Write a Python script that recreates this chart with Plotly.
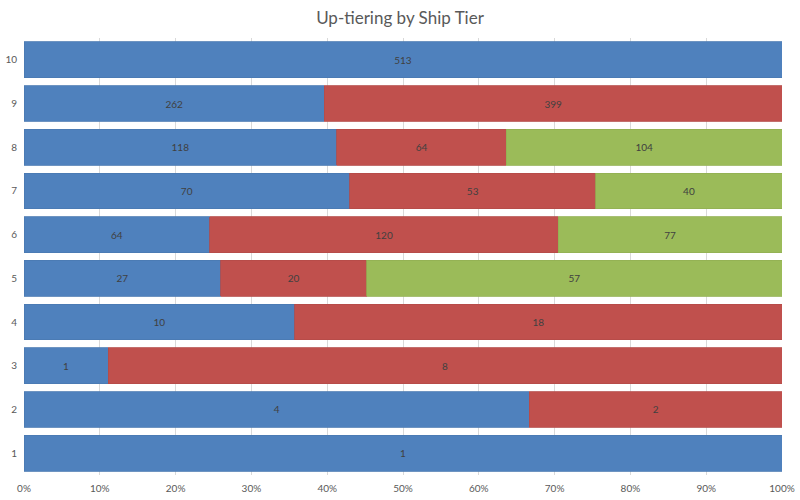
import plotly.graph_objects as go

tiers = ["1", "2", "3", "4", "5", "6", "7", "8", "9", "10"]
same_tier = [1, 4, 1, 10, 27, 64, 70, 118, 262, 513]
plus_one = [None, 2, 8, 18, 20, 120, 53, 64, 399, None]
plus_two = [None, None, None, None, 57, 77, 40, 104, None, None]
x_ticks = list(range(0, 101, 10))
tick_labels = [f"{t}%" for t in x_ticks]

colors = ["#4F81BD", "#C0504D", "#9BBB59"]
borders = ["#4A79B2", "#B44B48", "#92B053"]
names = ["Same tier", "+1 tier", "+2 tiers"]

fig = go.Figure()
for vals, c, bc, n in zip([same_tier, plus_one, plus_two], colors, borders, names):
    fig.add_trace(go.Bar(
        y=tiers, x=vals, orientation="h", name=n,
        marker=dict(color=c, line=dict(color=bc, width=0.8)),
        text=[("" if v is None else str(v)) for v in vals],
        textposition="inside", insidetextanchor="middle",
        textfont=dict(family="Lato, Open Sans, sans-serif", size=10, color="#404040"),
        constraintext="none",
        hoverinfo="x+y",
    ))

fig.update_layout(
    barmode="stack", barnorm="percent", bargap=0.18,
    width=800, height=500,
    margin=dict(l=24, r=18, t=38, b=25),
    plot_bgcolor="white", paper_bgcolor="white",
    showlegend=False,
    title=dict(text="Up-tiering by Ship Tier", x=0.5, xanchor="center", y=0.963, yanchor="middle",
               font=dict(family="Lato, Open Sans, sans-serif", size=17, color="#595959")),
    font=dict(family="Lato, Open Sans, sans-serif", size=10, color="#595959"),
)
fig.update_xaxes(range=[0, 100], tickvals=x_ticks, ticktext=tick_labels,
                 showgrid=True, gridcolor="#D9D9D9", gridwidth=1, zeroline=False,
                 showline=False, ticks="", ticklen=0, automargin=False,
                 ticklabelstandoff=6,
                 tickfont=dict(size=10, color="#595959"))
fig.update_yaxes(type="category", categoryorder="array", categoryarray=tiers,
                 showgrid=False, zeroline=False, showline=False, ticks="",
                 ticklabelstandoff=6, automargin=False,
                 tickfont=dict(size=10, color="#595959"))

fig.write_html("out.html")
